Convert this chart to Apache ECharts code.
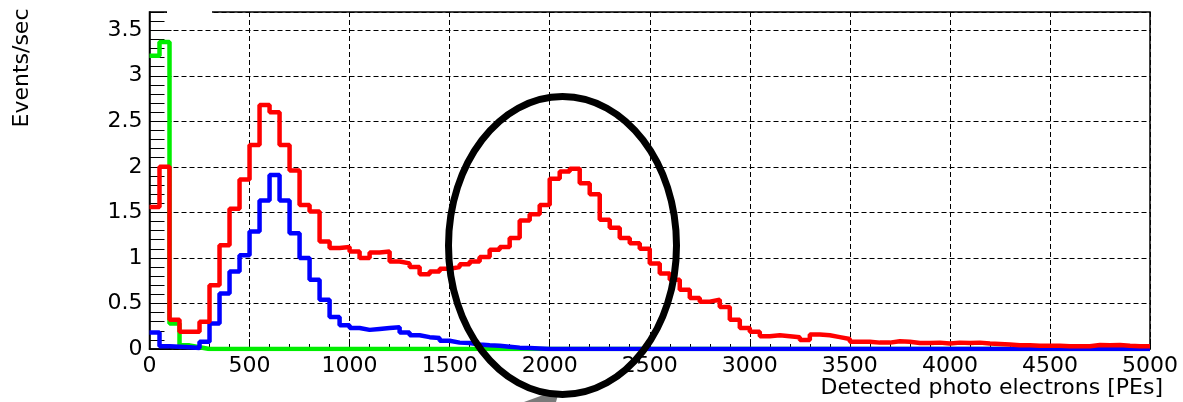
<!DOCTYPE html>
<html>
<head>
<meta charset="utf-8">
<script src="https://cdn.jsdelivr.net/npm/echarts@6/dist/echarts.min.js"></script>
<style>
html,body{margin:0;padding:0;background:#fff;}
#chart{width:1183px;height:402px;}
</style>
</head>
<body>
<div id="chart"></div>
<script>
// Histogram binning (PE), 100 bins of 50 PE from 0 to 5000
const binWidth = 50;
const xTicks = [0, 500, 1000, 1500, 2000, 2500, 3000, 3500, 4000, 4500, 5000];
const yTicks = [0, 0.5, 1, 1.5, 2, 2.5, 3, 3.5];

// Events/sec per bin (red)
const redValues = [
  1.56, 2.00, 0.32, 0.19, 0.19, 0.30, 0.70, 1.14, 1.54, 1.86,
  2.24, 2.68, 2.60, 2.24, 1.96, 1.58, 1.51, 1.18, 1.11, 1.12,
  1.07, 1.00, 1.06, 1.07, 0.96, 0.94, 0.90, 0.82, 0.85, 0.88,
  0.90, 0.93, 0.96, 1.01, 1.09, 1.12, 1.22, 1.41, 1.48, 1.58,
  1.87, 1.95, 1.98, 1.82, 1.70, 1.42, 1.33, 1.22, 1.16, 1.10,
  0.94, 0.83, 0.76, 0.65, 0.56, 0.52, 0.54, 0.46, 0.32, 0.23,
  0.19, 0.14, 0.15, 0.14, 0.13, 0.10, 0.16, 0.15, 0.13, 0.11,
  0.08, 0.08, 0.07, 0.07, 0.085, 0.08, 0.065, 0.065, 0.07, 0.06,
  0.07, 0.065, 0.07, 0.06, 0.055, 0.05, 0.04, 0.04, 0.035, 0.035,
  0.035, 0.03, 0.03, 0.03, 0.045, 0.04, 0.045, 0.035, 0.03, 0.03
];
// blue
const blueValues = [
  0.18, 0.03, 0.025, 0.02, 0.01, 0.08, 0.28, 0.61, 0.85, 1.03,
  1.29, 1.63, 1.91, 1.63, 1.27, 1.00, 0.76, 0.54, 0.35, 0.26,
  0.23, 0.21, 0.22, 0.23, 0.24, 0.18, 0.15, 0.13, 0.12, 0.09,
  0.07, 0.065, 0.05, 0.04, 0.035, 0.025, 0.015, 0.01, 0.005, 0,
  0, 0, 0, 0, 0, 0, 0, 0, 0, 0,
  0, 0, 0, 0, 0, 0, 0, 0, 0, 0,
  0, 0, 0, 0, 0, 0, 0, 0, 0, 0,
  0, 0, 0, 0, 0, 0, 0, 0, 0, 0,
  0, 0, 0, 0, 0, 0, 0, 0, 0, 0,
  0, 0, 0, 0, 0, 0, 0, 0, 0, 0
];
// green
const greenValues = [
  3.22, 3.37, 0.28, 0.04, 0.02, 0, 0, 0, 0, 0,
  0, 0, 0, 0, 0, 0, 0, 0, 0, 0,
  0, 0, 0, 0, 0, 0, 0, 0, 0, 0,
  0, 0, 0, 0, 0, 0, 0, 0, 0, 0,
  0, 0, 0, 0, 0, 0, 0, 0, 0, 0,
  0, 0, 0, 0, 0, 0, 0, 0, 0, 0,
  0, 0, 0, 0, 0, 0, 0, 0, 0, 0,
  0, 0, 0, 0, 0, 0, 0, 0, 0, 0,
  0, 0, 0, 0, 0, 0, 0, 0, 0, 0,
  0, 0, 0, 0, 0, 0, 0, 0, 0, 0
];

function toSteps(values) {
  const pts = values.map((v, i) => [i * binWidth, v]);
  pts.push([values.length * binWidth, values[values.length - 1]]);
  return pts;
}

const font = 'DejaVu Sans';
const chart = echarts.init(document.getElementById('chart'), null, {renderer: 'canvas'});
const xMin = xTicks[0], xMax = xTicks[xTicks.length - 1];
const yStep = yTicks[1] - yTicks[0];

chart.setOption({
  animation: false,
  backgroundColor: '#fff',
  grid: {left: 149.5, right: 33, top: 12, bottom: 53, show: true, borderColor: '#000', borderWidth: 1.5, containLabel: false},
  xAxis: {
    type: 'value', min: xMin, max: xMax, interval: xTicks[1] - xTicks[0],
    axisLine: {show: true, onZero: false, lineStyle: {color: '#000', width: 1.5}},
    axisTick: {show: true, inside: true, length: 10, lineStyle: {color: '#000'}},
    minorTick: {show: true, splitNumber: 5, length: 5, lineStyle: {color: '#000'}},
    axisLabel: {color: '#000', fontFamily: font, fontSize: 22, margin: 6, formatter: v => String(v)},
    splitLine: {show: true, lineStyle: {color: '#000', type: [5, 3], width: 1}}
  },
  yAxis: [{
    type: 'value', min: 0, max: 3.7, interval: yStep,
    axisLine: {show: true, onZero: false, lineStyle: {color: '#000', width: 1.5}},
    axisTick: {show: true, inside: true, length: 22, lineStyle: {color: '#000'}},
    axisLabel: {color: '#000', fontFamily: font, fontSize: 22, margin: 7, showMaxLabel: false, formatter: v => String(v)},
    splitLine: {show: true, lineStyle: {color: '#000', type: [5, 3], width: 1}}
  }, {
    type: 'value', min: 0, max: 3.7, interval: 0.1, position: 'left',
    axisLine: {show: false},
    axisTick: {show: true, inside: true, length: 15, lineStyle: {color: '#000'}},
    axisLabel: {show: false},
    splitLine: {show: false}
  }],
  series: [
    {name: 'green', type: 'line', step: 'end', data: toSteps(greenValues), showSymbol: false, symbol: 'none',
     lineStyle: {color: '#00ee00', width: 4.5}, z: 2},
    {name: 'blue', type: 'line', step: 'end', data: toSteps(blueValues), showSymbol: false, symbol: 'none',
     lineStyle: {color: '#0000ff', width: 4.5}, z: 3},
    {name: 'red', type: 'line', step: 'end', data: toSteps(redValues), showSymbol: false, symbol: 'none',
     lineStyle: {color: '#ff0000', width: 4.5}, z: 4}
  ],
  graphic: [
    {type: 'rect', shape: {x: 167, y: 9, width: 45, height: 5}, style: {fill: '#fff'}, z: 5},
    {type: 'text', x: 22, y: 68, rotation: Math.PI / 2,
     style: {text: 'Events/sec', font: '22px "DejaVu Sans"', fill: '#000', textAlign: 'center', textVerticalAlign: 'middle'}},
    {type: 'text', x: 1163, y: 388,
     style: {text: 'Detected photo electrons [PEs]', font: '22px "DejaVu Sans"', fill: '#000', textAlign: 'right', textVerticalAlign: 'middle'}},
    {type: 'polygon', shape: {points: [[524, 402], [546, 394], [558, 395], [556, 402]]},
     style: {fill: '#7a7a7a'}, z: 9},
    {type: 'ellipse', shape: {cx: 562.5, cy: 245.5, rx: 114, ry: 149},
     style: {fill: 'none', stroke: '#000', lineWidth: 7}, z: 10}
  ]
});
</script>
</body>
</html>
